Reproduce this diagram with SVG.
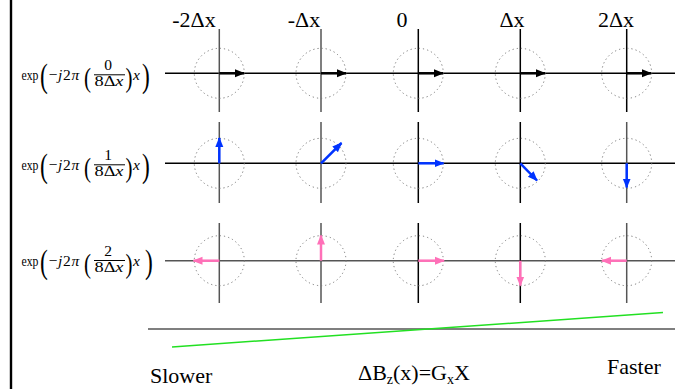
<svg xmlns="http://www.w3.org/2000/svg" width="675" height="389" viewBox="0 0 675 389">
<style>
text{font-family:"Liberation Serif","Times New Roman",serif;fill:#000}
.lab{font-size:22px}
.f{font-size:15.5px}
.i{font-style:italic}
.bp{font-size:34px}
.sp{font-size:28px}
.ax{stroke:#000;stroke-width:1.5;fill:none}
.axg{stroke:#555;stroke-width:1.5;fill:none}
.c{fill:none;stroke:#777;stroke-width:1;stroke-dasharray:1.2 3}
.ak{stroke:#000;stroke-width:2.5;fill:none}
.ab{stroke:#0033ff;stroke-width:2.5;fill:none}
.ap{stroke:#ff70b8;stroke-width:2.5;fill:none}
</style>
<defs>
<marker id="mk" viewBox="0 0 10 10" refX="9" refY="5" markerWidth="4" markerHeight="4" orient="auto" markerUnits="strokeWidth"><path d="M0,1 L10,5 L0,9 Z" fill="#000"/></marker>
<marker id="mb" viewBox="0 0 10 10" refX="9" refY="5" markerWidth="4" markerHeight="4" orient="auto" markerUnits="strokeWidth"><path d="M0,1 L10,5 L0,9 Z" fill="#0033ff"/></marker>
<marker id="mp" viewBox="0 0 10 10" refX="9" refY="5" markerWidth="4" markerHeight="4" orient="auto" markerUnits="strokeWidth"><path d="M0,1 L10,5 L0,9 Z" fill="#ff70b8"/></marker>
</defs>
<rect x="0" y="0" width="675" height="389" fill="#fff"/>
<line x1="11" y1="0" x2="11" y2="389" stroke="#000" stroke-width="2.4"/>

<g id="labels">
<text class="lab" x="194" y="27" text-anchor="middle">-2Δx</text>
<text class="lab" x="304" y="27" text-anchor="middle">-Δx</text>
<text class="lab" x="402" y="27" text-anchor="middle">0</text>
<text class="lab" x="512" y="27" text-anchor="middle">Δx</text>
<text class="lab" x="616" y="27" text-anchor="middle">2Δx</text>
</g>

<g id="formula1" transform="translate(0,73.3)">
<text class="f" x="21.5" y="6.5" textLength="17" lengthAdjust="spacingAndGlyphs">exp</text>
<text class="bp" x="40" y="13.5" textLength="7.8" lengthAdjust="spacingAndGlyphs">(</text>
<text class="f" x="48.8" y="6.5">−</text>
<text class="f i" x="58" y="6.5">j</text>
<text class="f" x="63" y="6.5">2</text>
<text class="f i" x="71.5" y="6.5">π</text>
<text class="sp" x="84" y="13.5" textLength="7" lengthAdjust="spacingAndGlyphs">(</text>
<text class="f" x="108" y="-3" text-anchor="middle">0</text>
<line x1="94" y1="1.5" x2="125" y2="1.5" stroke="#000" stroke-width="1"/>
<text class="f" x="94.5" y="12.5" textLength="29" lengthAdjust="spacingAndGlyphs">8Δ<tspan class="i">x</tspan></text>
<text class="sp" x="125.5" y="13.5" textLength="7" lengthAdjust="spacingAndGlyphs">)</text>
<text class="f i" x="133" y="6.5">x</text>
<text class="bp" x="142" y="13.5" textLength="7.8" lengthAdjust="spacingAndGlyphs">)</text>
</g>

<g id="formula2" transform="translate(0,163.3)">
<text class="f" x="21.5" y="6.5" textLength="17" lengthAdjust="spacingAndGlyphs">exp</text>
<text class="bp" x="40" y="13.5" textLength="7.8" lengthAdjust="spacingAndGlyphs">(</text>
<text class="f" x="48.8" y="6.5">−</text>
<text class="f i" x="58" y="6.5">j</text>
<text class="f" x="63" y="6.5">2</text>
<text class="f i" x="71.5" y="6.5">π</text>
<text class="sp" x="84" y="13.5" textLength="7" lengthAdjust="spacingAndGlyphs">(</text>
<text class="f" x="108" y="-3" text-anchor="middle">1</text>
<line x1="94" y1="1.5" x2="125" y2="1.5" stroke="#000" stroke-width="1"/>
<text class="f" x="94.5" y="12.5" textLength="29" lengthAdjust="spacingAndGlyphs">8Δ<tspan class="i">x</tspan></text>
<text class="sp" x="125.5" y="13.5" textLength="7" lengthAdjust="spacingAndGlyphs">)</text>
<text class="f i" x="133" y="6.5">x</text>
<text class="bp" x="142" y="13.5" textLength="7.8" lengthAdjust="spacingAndGlyphs">)</text>
</g>

<g id="formula3" transform="translate(0,259)">
<text class="f" x="21.5" y="6.5" textLength="17" lengthAdjust="spacingAndGlyphs">exp</text>
<text class="bp" x="40" y="13.5" textLength="7.8" lengthAdjust="spacingAndGlyphs">(</text>
<text class="f" x="48.8" y="6.5">−</text>
<text class="f i" x="58" y="6.5">j</text>
<text class="f" x="63" y="6.5">2</text>
<text class="f i" x="71.5" y="6.5">π</text>
<text class="sp" x="84" y="13.5" textLength="7" lengthAdjust="spacingAndGlyphs">(</text>
<text class="f" x="108" y="-3" text-anchor="middle">2</text>
<line x1="94" y1="1.5" x2="125" y2="1.5" stroke="#000" stroke-width="1"/>
<text class="f" x="94.5" y="12.5" textLength="29" lengthAdjust="spacingAndGlyphs">8Δ<tspan class="i">x</tspan></text>
<text class="sp" x="125.5" y="13.5" textLength="7" lengthAdjust="spacingAndGlyphs">)</text>
<text class="f i" x="133" y="6.5">x</text>
<text class="bp" x="145" y="13.5" textLength="7.8" lengthAdjust="spacingAndGlyphs">)</text>
</g>

<g id="axes">
<line class="ax" x1="165" y1="73.3" x2="675" y2="73.3"/>
<line class="ax" x1="165" y1="163.3" x2="675" y2="163.3"/>
<line class="axg" x1="165" y1="260.7" x2="675" y2="260.7"/>
<line class="axg" x1="219.3" y1="29" x2="219.3" y2="112"/>
<line class="axg" x1="321" y1="29" x2="321" y2="112"/>
<line class="ax" x1="418.3" y1="29" x2="418.3" y2="112"/>
<line class="ax" x1="520.3" y1="29" x2="520.3" y2="112"/>
<line class="ax" x1="626.7" y1="29" x2="626.7" y2="112"/>
<line class="axg" x1="219.3" y1="122" x2="219.3" y2="203"/>
<line class="axg" x1="321" y1="122" x2="321" y2="203"/>
<line class="ax" x1="418.3" y1="122" x2="418.3" y2="203"/>
<line class="ax" x1="520.3" y1="122" x2="520.3" y2="203"/>
<line class="axg" x1="626.7" y1="122" x2="626.7" y2="203"/>
<line class="axg" x1="219.3" y1="223" x2="219.3" y2="303"/>
<line class="axg" x1="321" y1="223" x2="321" y2="303"/>
<line class="ax" x1="418.3" y1="223" x2="418.3" y2="303"/>
<line class="ax" x1="520.3" y1="223" x2="520.3" y2="303"/>
<line class="axg" x1="626.7" y1="223" x2="626.7" y2="303"/>
</g>

<g id="circles">
<circle class="c" cx="219.3" cy="73.3" r="25"/>
<circle class="c" cx="321" cy="73.3" r="25"/>
<circle class="c" cx="418.3" cy="73.3" r="25"/>
<circle class="c" cx="520.3" cy="73.3" r="25"/>
<circle class="c" cx="626.7" cy="73.3" r="25"/>
<circle class="c" cx="219.3" cy="163.3" r="25"/>
<circle class="c" cx="321" cy="163.3" r="25"/>
<circle class="c" cx="418.3" cy="163.3" r="25"/>
<circle class="c" cx="520.3" cy="163.3" r="25"/>
<circle class="c" cx="626.7" cy="163.3" r="25"/>
<circle class="c" cx="219.3" cy="260.7" r="25"/>
<circle class="c" cx="321" cy="260.7" r="25"/>
<circle class="c" cx="418.3" cy="260.7" r="25"/>
<circle class="c" cx="520.3" cy="260.7" r="25"/>
<circle class="c" cx="626.7" cy="260.7" r="25"/>
</g>

<g id="connectors">
<line class="ak" marker-end="url(#mk)" x1="219.3" y1="73.3" x2="244" y2="73.3"/>
<line class="ak" marker-end="url(#mk)" x1="321" y1="73.3" x2="346" y2="73.3"/>
<line class="ak" marker-end="url(#mk)" x1="418.3" y1="73.3" x2="443" y2="73.3"/>
<line class="ak" marker-end="url(#mk)" x1="520.3" y1="73.3" x2="545" y2="73.3"/>
<line class="ak" marker-end="url(#mk)" x1="626.7" y1="73.3" x2="651" y2="73.3"/>

<line class="ab" marker-end="url(#mb)" x1="219.3" y1="163.3" x2="219.3" y2="138"/>
<line class="ab" marker-end="url(#mb)" x1="321" y1="163.3" x2="341.5" y2="143"/>
<line class="ab" marker-end="url(#mb)" x1="418.3" y1="163.3" x2="443.5" y2="163.3"/>
<line class="ab" marker-end="url(#mb)" x1="520.3" y1="163.3" x2="537" y2="180.5"/>
<line class="ab" marker-end="url(#mb)" x1="626.7" y1="163.3" x2="626.7" y2="187.5"/>

<line class="ap" marker-end="url(#mp)" x1="219.3" y1="260.7" x2="193.5" y2="260.7"/>
<line class="ap" marker-end="url(#mp)" x1="321" y1="260.7" x2="321" y2="235.5"/>
<line class="ap" marker-end="url(#mp)" x1="418.3" y1="260.7" x2="444" y2="260.7"/>
<line class="ap" marker-end="url(#mp)" x1="520.3" y1="260.7" x2="520.3" y2="285.5"/>
<line class="ap" marker-end="url(#mp)" x1="626.7" y1="260.7" x2="602" y2="260.7"/>
</g>

<g id="gradient">
<line x1="148" y1="329" x2="675" y2="329" stroke="#555" stroke-width="1.5"/>
<line x1="172" y1="347" x2="663" y2="312.5" stroke="#22e022" stroke-width="1.5"/>
<text class="lab" x="150" y="383">Slower</text>
<text class="lab" x="358" y="380">ΔB<tspan font-size="14" dy="4">z</tspan><tspan dy="-4">(x)=G</tspan><tspan font-size="14" dy="4">x</tspan><tspan dy="-4">X</tspan></text>
<text class="lab" x="607" y="374">Faster</text>
</g>
</svg>
